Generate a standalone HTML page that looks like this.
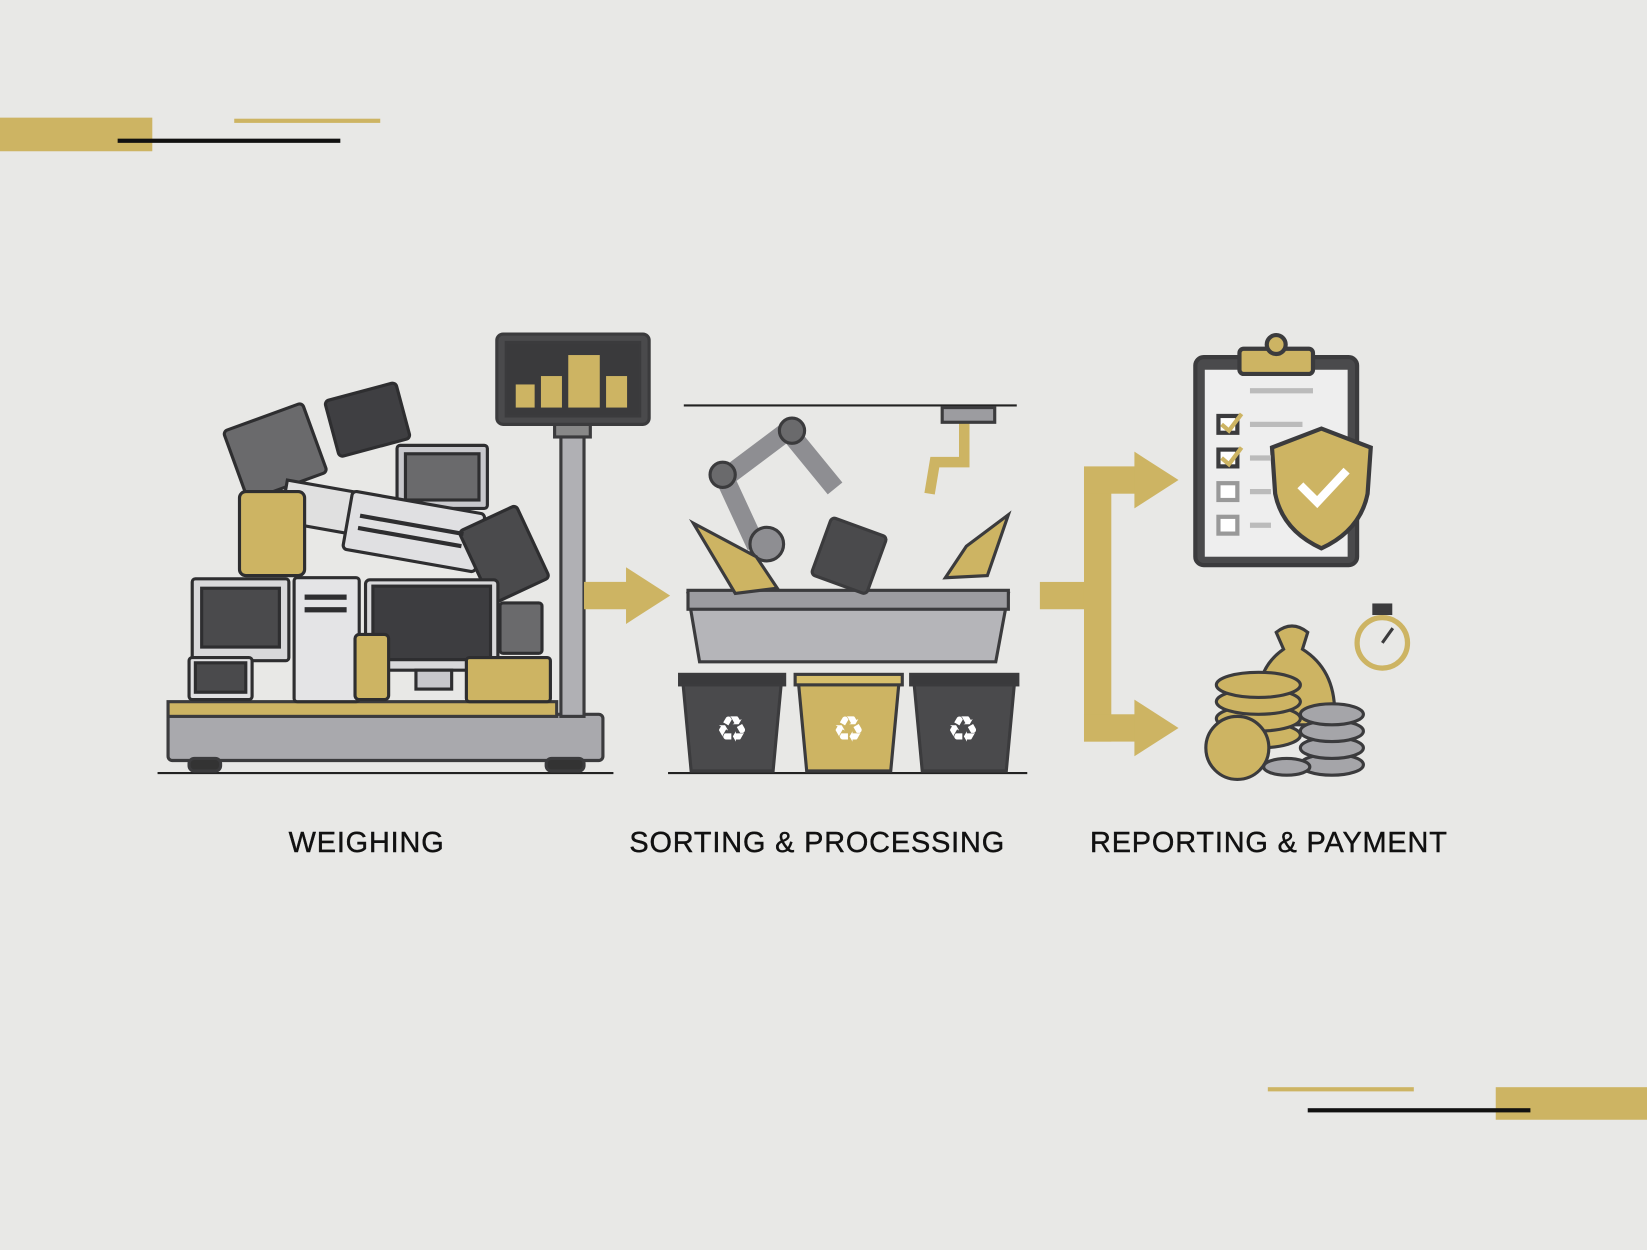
<!DOCTYPE html>
<html><head><meta charset="utf-8"><style>
html,body{margin:0;padding:0;background:#e8e8e6;}
svg{display:block}
</style></head><body>
<svg width="1647" height="1250" viewBox="0 0 1568 1190" preserveAspectRatio="none" xmlns="http://www.w3.org/2000/svg">
<rect width="1568" height="1190" fill="#e8e8e6"/>
<rect x="0" y="112" width="145" height="32" fill="#cdb463"/>
<rect x="223" y="113" width="139" height="4" fill="#cdb463"/>
<rect x="112" y="132" width="212" height="4" fill="#111"/>
<rect x="1424" y="1035" width="144" height="31" fill="#cdb463"/>
<rect x="1207" y="1035" width="139" height="4" fill="#cdb463"/>
<rect x="1245" y="1055" width="212" height="4" fill="#111"/>

<g stroke="#3b3b3d" stroke-width="3">
<line x1="150" y1="736" x2="584" y2="736" stroke="#222" stroke-width="2"/>
<rect x="160" y="680" width="414" height="44" rx="4" fill="#a9a9ad"/>
<rect x="160" y="668" width="370" height="14" fill="#cdb463"/>
<rect x="180" y="722" width="30" height="12" rx="5" fill="#333"/>
<rect x="520" y="722" width="36" height="12" rx="5" fill="#333"/>
<rect x="534" y="410" width="22" height="272" fill="#b0b0b4"/>
<rect x="528" y="404" width="34" height="12" fill="#888"/>
<rect x="473" y="318" width="145" height="86" rx="6" fill="#4a4a4c"/>
<rect x="482" y="326" width="127" height="70" fill="#3a3a3c"/>
</g>
<g fill="#cdb463">
<rect x="491" y="366" width="18" height="22"/><rect x="515" y="358" width="20" height="30"/>
<rect x="541" y="338" width="30" height="50"/><rect x="577" y="358" width="20" height="30"/>
</g>
<g stroke="#2e2e30" stroke-width="3">
<rect x="222" y="395" width="80" height="70" rx="4" fill="#6a6a6c" transform="rotate(-20 262 430)"/>
<rect x="315" y="372" width="70" height="55" rx="4" fill="#3f3f42" transform="rotate(-15 350 400)"/>
<rect x="378" y="424" width="86" height="60" rx="3" fill="#c8c8cc"/>
<rect x="386" y="432" width="70" height="44" fill="#6a6a6c"/>
<rect x="270" y="462" width="68" height="40" fill="#e0e0e0" transform="rotate(10 300 480)"/>
<rect x="330" y="478" width="128" height="56" rx="4" fill="#e0e0e2" transform="rotate(10 394 506)"/>
<rect x="450" y="490" width="60" height="76" rx="4" fill="#4a4a4c" transform="rotate(-25 480 528)"/>
<rect x="228" y="468" width="62" height="80" rx="6" fill="#cdb463"/>
<rect x="183" y="551" width="92" height="78" rx="3" fill="#d8d8da"/>
<rect x="192" y="560" width="74" height="56" fill="#4a4a4c"/>
<rect x="280" y="550" width="62" height="118" rx="3" fill="#e4e4e6"/>
<rect x="348" y="552" width="126" height="86" rx="4" fill="#d8d8da"/>
<rect x="355" y="558" width="112" height="70" fill="#3d3d40"/>
<rect x="396" y="638" width="34" height="18" fill="#c8c8cc"/>
<rect x="180" y="626" width="60" height="40" rx="3" fill="#e0e0e2"/>
<rect x="186" y="631" width="48" height="28" fill="#4a4a4c"/>
<rect x="338" y="604" width="32" height="62" rx="4" fill="#cdb463"/>
<rect x="444" y="626" width="80" height="42" rx="3" fill="#cdb463"/>
<rect x="476" y="574" width="40" height="48" rx="3" fill="#6a6a6c"/>
</g>
<g fill="#2e2e30">
<rect x="290" y="566" width="40" height="5"/><rect x="290" y="578" width="40" height="5"/>
<rect x="342" y="498" width="100" height="4" transform="rotate(10 394 500)"/>
<rect x="340" y="510" width="100" height="4" transform="rotate(10 394 512)"/>
</g>

<polygon points="556,554 596,554 596,540 638,567 596,594 596,580 556,580" fill="#cdb463"/>

<line x1="651" y1="386" x2="968" y2="386" stroke="#222" stroke-width="2"/>
<line x1="636" y1="736" x2="978" y2="736" stroke="#222" stroke-width="2"/>
<g stroke="#3b3b3d" stroke-width="3">
<path d="M655,565 L960,565 L948,630 L666,630 Z" fill="#b5b5b9"/>
<rect x="655" y="562" width="305" height="18" fill="#9c9ca0"/>
<path d="M650,648 L744,648 L736,734 L658,734 Z" fill="#4a4a4c"/>
<path d="M760,648 L856,648 L848,734 L768,734 Z" fill="#cdb463"/>
<path d="M870,648 L966,648 L958,734 L878,734 Z" fill="#4a4a4c"/>
<rect x="647" y="642" width="100" height="10" fill="#3a3a3c"/>
<rect x="757" y="642" width="102" height="10" fill="#d7bf6c"/>
<rect x="867" y="642" width="102" height="10" fill="#3a3a3c"/>
<path d="M720,520 L690,455 L750,410 L795,465" fill="none" stroke="#8e8e92" stroke-width="18"/>
<circle cx="688" cy="452" r="12" fill="#6a6a6c"/>
<circle cx="754" cy="410" r="12" fill="#6a6a6c"/>
<circle cx="730" cy="518" r="16" fill="#8e8e92"/>
<rect x="780" y="500" width="56" height="58" rx="4" fill="#4a4a4c" transform="rotate(20 808 530)"/>
<path d="M918,388 L918,440 L890,440 L885,470" fill="none" stroke="#cdb463" stroke-width="10"/>
<rect x="897" y="388" width="50" height="14" fill="#9c9ca0"/>
<path d="M660,498 L720,530 L740,560 L700,565 Z" fill="#cdb463"/>
<path d="M960,490 L920,520 L900,550 L940,548 Z" fill="#cdb463"/>
</g>
<g fill="#fff" font-family="DejaVu Sans, sans-serif" font-size="34" text-anchor="middle">
<text x="697" y="706">♻</text><text x="808" y="706">♻</text><text x="917" y="706">♻</text>
</g>

<g fill="#cdb463">
<rect x="990" y="554" width="48" height="26"/>
<rect x="1032" y="448" width="26" height="258"/>
<rect x="1032" y="444" width="50" height="26"/>
<polygon points="1080,430 1122,457 1080,484"/>
<rect x="1032" y="680" width="50" height="26"/>
<polygon points="1080,666 1122,693 1080,720"/>
</g>

<g stroke="#3b3b3d" stroke-width="4">
<rect x="1138" y="340" width="154" height="198" rx="8" fill="#4a4a4c"/>
<rect x="1147" y="352" width="136" height="178" fill="#eeeeee" stroke="none"/>
<rect x="1180" y="332" width="70" height="24" rx="4" fill="#cdb463"/>
<circle cx="1215" cy="328" r="9" fill="#cdb463"/>
<rect x="1160" y="396" width="18" height="16" fill="#fff"/>
<rect x="1160" y="428" width="18" height="16" fill="#fff"/>
<rect x="1160" y="460" width="18" height="16" fill="#fff" stroke="#999"/>
<rect x="1160" y="492" width="18" height="16" fill="#fff" stroke="#999"/>
<path d="M1258,408 L1305,426 L1302,470 Q1295,505 1258,522 Q1221,505 1214,470 L1211,426 Z" fill="#cdb463"/>
</g>
<g stroke="#bbb" stroke-width="5">
<line x1="1190" y1="372" x2="1250" y2="372"/>
<line x1="1190" y1="404" x2="1240" y2="404"/><line x1="1190" y1="436" x2="1210" y2="436"/>
<line x1="1190" y1="468" x2="1210" y2="468"/><line x1="1190" y1="500" x2="1210" y2="500"/>
</g>
<polyline points="1238,462 1254,478 1282,448" fill="none" stroke="#fff" stroke-width="8"/>
<polyline points="1163,404 1170,410 1182,394" fill="none" stroke="#cdb463" stroke-width="4"/>
<polyline points="1163,436 1170,442 1182,426" fill="none" stroke="#cdb463" stroke-width="4"/>

<g stroke="#3b3b3d" stroke-width="3">
<path d="M1215,602 Q1230,590 1245,602 L1240,618 Q1275,640 1270,690 L1200,690 Q1190,640 1222,618 Z" fill="#cdb463"/>
<circle cx="1316" cy="612" r="24" fill="#e8e8e6" stroke="#cdb463" stroke-width="5"/>
<rect x="1308" y="576" width="16" height="8" fill="#3b3b3d"/>
<ellipse cx="1268" cy="728" rx="30" ry="10" fill="#a5a5a9"/>
<ellipse cx="1268" cy="712" rx="30" ry="10" fill="#a5a5a9"/>
<ellipse cx="1268" cy="696" rx="30" ry="10" fill="#a5a5a9"/>
<ellipse cx="1268" cy="680" rx="30" ry="10" fill="#a5a5a9"/>
<ellipse cx="1198" cy="700" rx="40" ry="12" fill="#cdb463"/>
<ellipse cx="1198" cy="684" rx="40" ry="12" fill="#cdb463"/>
<ellipse cx="1198" cy="668" rx="40" ry="12" fill="#cdb463"/>
<ellipse cx="1198" cy="652" rx="40" ry="12" fill="#cdb463"/>
<circle cx="1178" cy="712" r="30" fill="#cdb463"/>
<ellipse cx="1225" cy="730" rx="22" ry="8" fill="#a5a5a9"/>
</g>
<line x1="1316" y1="612" x2="1326" y2="598" stroke="#3b3b3d" stroke-width="3"/>

<g font-family="Liberation Sans, sans-serif" font-size="27.5" fill="#111" text-anchor="middle" letter-spacing="0.8" stroke="#111" stroke-width="0.4">
<text x="349" y="811">WEIGHING</text>
<text x="778" y="811">SORTING &amp; PROCESSING</text>
<text x="1208" y="811">REPORTING &amp; PAYMENT</text>
</g>
</svg>
</body></html>
